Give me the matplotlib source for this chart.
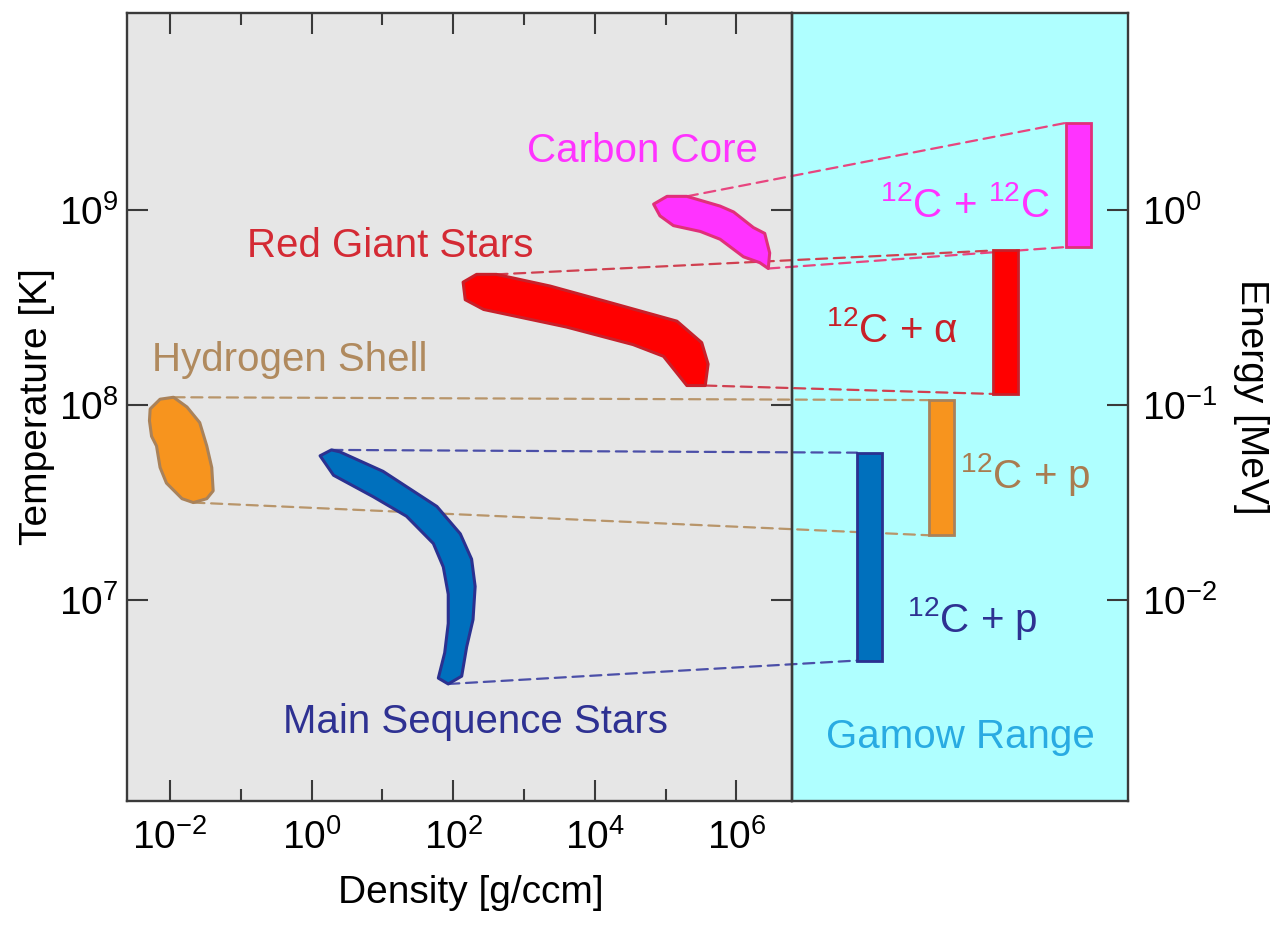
import matplotlib
matplotlib.use("Agg")
import matplotlib.pyplot as plt
from matplotlib.patches import Rectangle, ConnectionPatch
from matplotlib.ticker import FixedLocator, NullLocator, NullFormatter

plt.rcParams['font.family'] = ['Liberation Sans', 'DejaVu Sans']
plt.rcParams['mathtext.fontset'] = 'custom'
plt.rcParams['mathtext.rm'] = 'Liberation Sans'
plt.rcParams['mathtext.it'] = 'Liberation Sans:italic'
plt.rcParams['mathtext.bf'] = 'Liberation Sans:bold'

# Burning regions: outlines as (log10 density [g/ccm], log10 temperature [K])
main_sequence = [(0.12, 7.74), (0.28, 7.77), (0.40, 7.76), (1.01, 7.66), (1.77, 7.48),
                 (2.10, 7.34), (2.26, 7.21), (2.31, 7.07), (2.28, 6.90), (2.19, 6.76),
                 (2.12, 6.61), (1.93, 6.57), (1.79, 6.60), (1.88, 6.73), (1.93, 6.88),
                 (1.93, 7.03), (1.86, 7.17), (1.72, 7.29), (1.34, 7.43), (0.87, 7.53),
                 (0.31, 7.64)]
hydrogen_shell = [(-2.28, 7.98), (-2.14, 8.03), (-1.95, 8.04), (-1.76, 7.99), (-1.58, 7.91),
                  (-1.48, 7.79), (-1.41, 7.68), (-1.39, 7.56), (-1.48, 7.52), (-1.67, 7.50),
                  (-1.83, 7.52), (-2.05, 7.60), (-2.14, 7.68), (-2.19, 7.79), (-2.26, 7.84),
                  (-2.29, 7.92)]
red_giant = [(2.14, 8.63), (2.33, 8.67), (2.61, 8.67), (3.37, 8.61), (4.17, 8.53),
             (5.16, 8.43), (5.51, 8.32), (5.60, 8.21), (5.56, 8.10), (5.30, 8.10),
             (4.97, 8.25), (4.54, 8.31), (3.60, 8.40), (2.43, 8.49), (2.17, 8.54)]
carbon_core = [(4.83, 9.03), (5.02, 9.07), (5.30, 9.07), (5.77, 9.02), (5.96, 8.99),
               (6.24, 8.91), (6.40, 8.88), (6.47, 8.78), (6.45, 8.70), (6.33, 8.73),
               (6.10, 8.76), (5.77, 8.85), (5.49, 8.89), (5.11, 8.92), (4.92, 8.97)]

# Gamow windows (low, high) in MeV
gamow_main_sequence = (0.0049, 0.057)
gamow_hydrogen_shell = (0.0215, 0.106)
gamow_red_giant = (0.114, 0.62)
gamow_carbon_core = (0.646, 2.8)

region_names = ["Main Sequence Stars", "Hydrogen Shell", "Red Giant Stars", "Carbon Core"]
reaction_names = [r"$^{12}$C + p", r"$^{12}$C + p", r"$^{12}$C + α", r"$^{12}$C + $^{12}$C"]

x_major = [1e-2, 1e0, 1e2, 1e4, 1e6]
x_minor = [1e-1, 1e1, 1e3, 1e5]
t_major = [1e7, 1e8, 1e9]
e_major = [1e-2, 1e-1, 1e0]

# styling
GRAY_BG = '#e6e6e6'
CYAN_BG = '#afffff'
SPINE = '#3a3a3a'
fills = ['#0070bd', '#f7941e', '#ff0000', '#ff33ff']
edges = ['#2b3190', '#a9825a', '#c8202a', '#e0307a']
text_colors = ['#2e3192', '#b08a5e', '#d42a34', '#ff33ff']
reaction_colors = ['#2e3192', '#a97c50', '#c82028', '#ff33ff']
link_colors = ['#4b4fa8', '#b8956a', '#d04050', '#e8457f']
link_vertex = [(1, 11), (2, 9), (2, 8), (2, 8)]
bar_x = [0.232, 0.445, 0.637, 0.854]
bar_w = 0.074

fig = plt.figure(figsize=(12.78, 9.31), dpi=100)
ax = fig.add_axes([127 / 1278, 130 / 931, 664.5 / 1278, 788 / 931])
axg = fig.add_axes([791.5 / 1278, 130 / 931, 336.5 / 1278, 788 / 931])

for a, bg in ((ax, GRAY_BG), (axg, CYAN_BG)):
    fig.add_artist(Rectangle((0, 0), 1, 1, transform=a.transAxes, facecolor=bg,
                             edgecolor='none', zorder=-1))
    a.patch.set_visible(False)
    a.set_zorder(1)
    for s in a.spines.values():
        s.set_color(SPINE)
        s.set_linewidth(1.7)

# density / temperature panel
ax.set_xscale('log')
ax.set_yscale('log')
ax.set_xlim(10 ** -2.607, 10 ** 6.778)
ax.set_ylim(10 ** 5.97, 10 ** 10.01)
ax.xaxis.set_major_locator(FixedLocator(x_major))
ax.xaxis.set_minor_locator(FixedLocator(x_minor))
ax.xaxis.set_minor_formatter(NullFormatter())
ax.yaxis.set_major_locator(FixedLocator(t_major))
ax.yaxis.set_minor_locator(NullLocator())
ax.tick_params(which='both', direction='in', top=True, right=True, color=SPINE,
               width=1.5, labelsize=28)
ax.tick_params(which='major', length=15)
ax.tick_params(which='minor', length=8.5)
ax.tick_params(axis='x', pad=13)
ax.tick_params(axis='y', pad=6)

polys = [main_sequence, hydrogen_shell, red_giant, carbon_core]
for poly, fc, ec in zip(polys, fills, edges):
    xs = [10 ** p[0] for p in poly]
    ys = [10 ** p[1] for p in poly]
    ax.fill(xs, ys, facecolor=fc, edgecolor=ec, linewidth=2.2, joinstyle='round', zorder=2)

ax.set_xlabel('Density [g/ccm]', fontsize=28)
ax.xaxis.set_label_coords(0.518, -0.094)
ax.set_ylabel('Temperature [K]', fontsize=28)
ax.yaxis.set_label_coords(-0.108, 0.5)

region_text_pos = [(2.31, 6.319), (-0.305, 8.176), (1.107, 8.760), (4.667, 9.248)]
for name, (lx, lt), c in zip(region_names, region_text_pos, text_colors):
    ax.text(10 ** lx, 10 ** lt, name, color=c, fontsize=29, ha='center', va='baseline',
            zorder=3)

# Gamow range panel
axg.set_yscale('log')
axg.set_xlim(0, 1)
axg.set_ylim(10 ** -3.03, 10 ** 1.01)
axg.xaxis.set_major_locator(NullLocator())
axg.yaxis.set_major_locator(FixedLocator(e_major))
axg.yaxis.set_minor_locator(NullLocator())
axg.yaxis.tick_right()
axg.tick_params(axis='y', which='major', direction='in', length=15, width=1.5,
                color=SPINE, labelsize=28, pad=10, left=False, right=True)
axg.yaxis.set_label_position('right')
axg.set_ylabel('Energy [MeV]', fontsize=28, rotation=270, va='center', ha='center')
axg.yaxis.set_label_coords(1.3655, 0.513)

windows = [gamow_main_sequence, gamow_hydrogen_shell, gamow_red_giant, gamow_carbon_core]
lows = [w[0] for w in windows]
highs = [w[1] for w in windows]
axg.bar(bar_x, [h - l for l, h in zip(lows, highs)], bottom=lows, width=bar_w,
        color=fills, edgecolor=edges, linewidth=2.0, zorder=2)

reaction_pos = [(0.536, 0.215), (0.696, 0.397), (0.299, 0.583), (0.516, 0.7415)]
for name, (fx, fy), c in zip(reaction_names, reaction_pos, reaction_colors):
    axg.text(fx, fy, name, color=c, fontsize=29, ha='center', va='baseline',
             transform=axg.transAxes, zorder=3)
axg.text(0.503, 0.067, 'Gamow Range', color='#29abe2', fontsize=29, ha='center',
         va='baseline', transform=axg.transAxes, zorder=3)

# dashed links from each burning region to its Gamow window
for poly, (i_top, i_bot), (lo, hi), bx, c in zip(polys, link_vertex, windows, bar_x, link_colors):
    for vi, e in ((i_top, hi), (i_bot, lo)):
        lx, lt = poly[vi]
        con = ConnectionPatch(xyA=(10 ** lx, 10 ** lt), coordsA=ax.transData,
                              xyB=(bx - bar_w / 2, e), coordsB=axg.transData,
                              color=c, linewidth=1.6, linestyle=(0, (5, 3)), zorder=0.5)
        fig.add_artist(con)

fig.savefig('out.png', dpi=100)
